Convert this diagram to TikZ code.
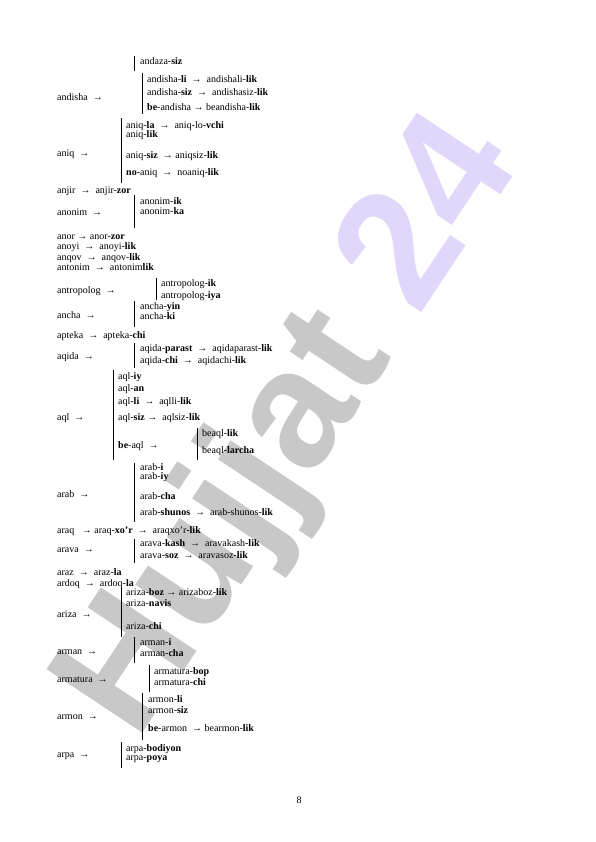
\documentclass[tikz,border=0pt]{standalone}
\usepackage{fontspec}
\setmainfont{Liberation Serif}
\newfontfamily\wmfont{Liberation Sans}
\definecolor{wmGray}{HTML}{C8C8C8}
\definecolor{wmViolet}{HTML}{E0D7FB}
\usetikzlibrary{positioning}

\begin{document}
\begin{tikzpicture}[x=1pt,y=-1pt,
  word/.style={anchor=west, inner sep=0pt, text height=7pt, text depth=2pt, font=\fontsize{10}{12}\selectfont},
  bar/.style={line width=0.8pt}]
  \useasboundingbox (0,0) rectangle (596,842);
  \node[rotate=56.4, anchor=base, inner sep=0pt, font=\wmfont\bfseries\fontsize{167}{167}\selectfont] (mark) at (329,453)
    {\color{wmGray}Hujjat \color{wmViolet}24};

  \draw[bar] (134.5,56) -- (134.5,71);
  \node[word] (andaza) at (140,62.5) {andaza-\textbf{siz}};

  \node[word] (andisha) at (57,98) {andisha ~→};
  \draw[bar] (142,73) -- (142,114);
  \node[word] (andisha1) at (147,80) {andisha-\textbf{li} ~→~ andishali-\textbf{lik}};
  \node[word] (andisha2) at (147,93) {andisha-\textbf{siz} ~→~ andishasiz-\textbf{lik}};
  \node[word] (andisha3) at (147,108.5) {\textbf{be}-andisha → beandisha-\textbf{lik}};

  \node[word] (aniq) at (57,154) {aniq ~→};
  \draw[bar] (121,118) -- (121,183);
  \node[word] (aniq1) at (126,125.7) {aniq-\textbf{la} ~→~ aniq-lo-\textbf{vchi}};
  \node[word] (aniq2) at (126,135) {aniq-\textbf{lik}};
  \node[word] (aniq3) at (126,156.5) {aniq-\textbf{siz} ~→ aniqsiz-\textbf{lik}};
  \node[word] (aniq4) at (126,172.7) {\textbf{no}-aniq ~→~ noaniq-\textbf{lik}};

  \node[word] (anjir) at (57,190.7) {anjir ~→~ anjir-\textbf{zor}};

  \node[word] (anonim) at (57,213) {anonim ~→};
  \draw[bar] (134.5,195) -- (134.5,228);
  \node[word] (anonim1) at (140,201.7) {anonim-\textbf{ik}};
  \node[word] (anonim2) at (140,211.7) {anonim-\textbf{ka}};

  \node[word] (anor) at (57,236.7) {anor → anor-\textbf{zor}};
  \node[word] (anoyi) at (57,246.7) {anoyi ~→~ anoyi-\textbf{lik}};
  \node[word] (anqov) at (57,257.7) {anqov ~→~ anqov-\textbf{lik}};
  \node[word] (antonim) at (57,268.3) {antonim ~→~ antonim\textbf{lik}};

  \node[word] (antropolog) at (57,291) {antropolog ~→};
  \draw[bar] (156,278) -- (156,300);
  \node[word] (antropolog1) at (161,284.3) {antropolog-\textbf{ik}};
  \node[word] (antropolog2) at (161,295.7) {antropolog-\textbf{iya}};

  \node[word] (ancha) at (57,316) {ancha ~→};
  \draw[bar] (134.5,301) -- (134.5,327);
  \node[word] (ancha1) at (140,306.7) {ancha-\textbf{yin}};
  \node[word] (ancha2) at (140,317.3) {ancha-\textbf{ki}};

  \node[word] (apteka) at (57,336) {apteka ~→~ apteka-\textbf{chi}};

  \node[word] (aqida) at (57,356.7) {aqida ~→};
  \draw[bar] (134.5,343) -- (134.5,368);
  \node[word] (aqida1) at (140,349.3) {aqida-\textbf{parast} ~→~ aqidaparast-\textbf{lik}};
  \node[word] (aqida2) at (140,360.7) {aqida-\textbf{chi} ~→~ aqidachi-\textbf{lik}};

  \node[word] (aql) at (57,418.3) {aql ~→};
  \draw[bar] (113.5,370) -- (113.5,460);
  \node[word] (aql1) at (118,376.7) {aql-\textbf{iy}};
  \node[word] (aql2) at (118,389.3) {aql-\textbf{an}};
  \node[word] (aql3) at (118,401.7) {aql-\textbf{li} ~→~ aqlli-\textbf{lik}};
  \node[word] (aql4) at (118,418.3) {aql-\textbf{siz} → ~aqlsiz-\textbf{lik}};
  \node[word] (aql5) at (118,445.7) {\textbf{be}-aql ~→};
  \draw[bar] (197,428) -- (197,460);
  \node[word] (beaql1) at (202,434.3) {beaql-\textbf{lik}};
  \node[word] (beaql2) at (202,451) {beaql-\textbf{larcha}};

  \node[word] (arab) at (57,495) {arab ~→};
  \draw[bar] (134.5,463) -- (134.5,521.7);
  \node[word] (arab1) at (140,467.7) {arab-\textbf{i}};
  \node[word] (arab2) at (140,476.7) {arab-\textbf{iy}};
  \node[word] (arab3) at (140,496.7) {arab-\textbf{cha}};
  \node[word] (arab4) at (140,513.3) {arab-\textbf{shunos} ~→~ arab-shunos-\textbf{lik}};

  \node[word] (araq) at (57,530.7) {araq ~~→ araq-\textbf{xo’r} ~→~ araqxo’r-\textbf{lik}};

  \node[word] (arava) at (57,550) {arava ~→};
  \draw[bar] (134.5,539) -- (134.5,563);
  \node[word] (arava1) at (140,544) {arava-\textbf{kash} ~→~ aravakash-\textbf{lik}};
  \node[word] (arava2) at (140,556) {arava-\textbf{soz} ~→~ aravasoz-\textbf{lik}};

  \node[word] (araz) at (57,573.3) {araz ~→~ araz-\textbf{la}};
  \node[word] (ardoq) at (57,584.3) {ardoq ~→~ ardoq-\textbf{la}};

  \node[word] (ariza) at (57,615) {ariza ~→};
  \draw[bar] (121,588) -- (121,636.7);
  \node[word] (ariza1) at (126,593.3) {ariza-\textbf{boz} → arizaboz-\textbf{lik}};
  \node[word] (ariza2) at (126,604.3) {ariza-\textbf{navis}};
  \node[word] (ariza3) at (126,626.7) {ariza-\textbf{chi}};

  \node[word] (arman) at (57,652) {arman ~→};
  \draw[bar] (134.5,637) -- (134.5,663.3);
  \node[word] (arman1) at (140,643.3) {arman-\textbf{i}};
  \node[word] (arman2) at (140,654) {arman-\textbf{cha}};

  \node[word] (armatura) at (57,680) {armatura ~→};
  \draw[bar] (149,665) -- (149,691.7);
  \node[word] (armatura1) at (154,671.7) {armatura-\textbf{bop}};
  \node[word] (armatura2) at (154,683.3) {armatura-\textbf{chi}};

  \node[word] (armon) at (57,716.7) {armon ~→};
  \draw[bar] (142,692.7) -- (142,740);
  \node[word] (armon1) at (148,700) {armon-\textbf{li}};
  \node[word] (armon2) at (148,710.7) {armon-\textbf{siz}};
  \node[word] (armon3) at (148,729.3) {\textbf{be}-armon ~→ bearmon-\textbf{lik}};

  \node[word] (arpa) at (57,755) {arpa ~→};
  \draw[bar] (121,741.7) -- (121,768.3);
  \node[word] (arpa1) at (126,749) {arpa-\textbf{bodiyon}};
  \node[word] (arpa2) at (126,758.3) {arpa-\textbf{poya}};

  \node[word, anchor=center] (page) at (299,801) {8};
\end{tikzpicture}
\end{document}
